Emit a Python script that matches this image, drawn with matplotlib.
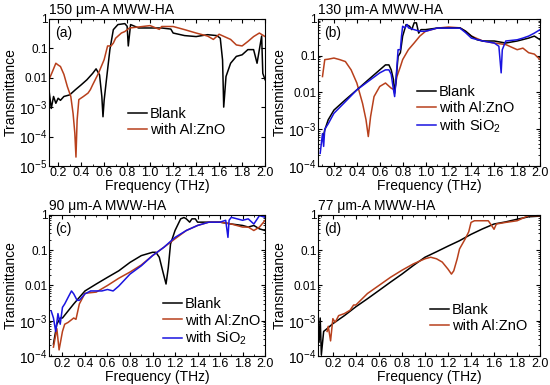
import math
import matplotlib
matplotlib.use('Agg')
import matplotlib.pyplot as plt
from matplotlib.ticker import LogLocator, NullFormatter, MultipleLocator

plt.rcParams['font.family'] = ['Liberation Sans', 'DejaVu Sans']
plt.rcParams['mathtext.default'] = 'regular'

# ---- panel (a): 150 um-A MWW-HA ----
fa_blank = [0.12, 0.14, 0.16, 0.18, 0.2, 0.22, 0.25, 0.3, 0.35, 0.4, 0.45, 0.5, 0.53, 0.56, 0.58, 0.59,
            0.6, 0.62, 0.65, 0.68, 0.72, 0.78, 0.8, 0.81, 0.83, 0.9, 1.0, 1.1, 1.18, 1.2, 1.3, 1.4, 1.5,
            1.58, 1.61, 1.63, 1.64, 1.66, 1.7, 1.75, 1.8, 1.85, 1.9, 1.93, 1.95, 1.97, 1.98, 2.0]
ta_blank = [3.9e-3, 9e-4, 2.3e-3, 1.35e-3, 2e-3, 1.7e-3, 2.3e-3, 2.6e-3, 3.9e-3, 5.7e-3, 8.5e-3, 0.014, 0.02,
            0.0125, 2.3e-3, 4.7e-4, 1.7e-3, 0.0085, 0.09, 0.43, 0.64, 0.69, 0.56, 0.12, 0.64, 0.49, 0.49,
            0.49, 0.45, 0.33, 0.27, 0.25, 0.29, 0.27, 0.22, 0.04, 1e-3, 0.011, 0.031, 0.053, 0.06, 0.09,
            0.09, 0.031, 0.09, 0.26, 0.014, 0.0085]
fa_azo = [0.12, 0.15, 0.18, 0.2, 0.22, 0.25, 0.28, 0.31, 0.33, 0.345, 0.355, 0.365, 0.38, 0.42, 0.46, 0.48,
          0.5, 0.55, 0.6, 0.63, 0.66, 0.68, 0.7, 0.75, 0.78, 0.82, 0.9, 1.0, 1.05, 1.08, 1.1, 1.2, 1.3,
          1.4, 1.5, 1.55, 1.6, 1.7, 1.75, 1.8, 1.85, 1.9, 1.95, 2.0]
ta_azo = [0.0085, 0.016, 0.031, 0.027, 0.024, 0.013, 0.005, 0.0023, 6e-4, 1.3e-4, 2e-5, 3.6e-4, 1.8e-3,
          2.3e-3, 3e-3, 3.9e-3, 5.7e-3, 0.014, 0.041, 0.12, 0.12, 0.15, 0.22, 0.33, 0.37, 0.49, 0.53, 0.59,
          0.49, 0.44, 0.55, 0.55, 0.43, 0.33, 0.26, 0.2, 0.3, 0.2, 0.13, 0.12, 0.17, 0.25, 0.33, 0.25]

# ---- panel (b): 130 um-A MWW-HA ----
fb_blank = [0.1, 0.12, 0.15, 0.2, 0.3, 0.4, 0.5, 0.6, 0.65, 0.68, 0.7, 0.72, 0.73, 0.74, 0.76, 0.78, 0.8,
            0.83, 0.86, 0.88, 0.9, 0.92, 0.94, 0.96, 1.0, 1.1, 1.3, 1.35, 1.4, 1.45, 1.5, 1.6, 1.7, 1.8,
            1.9, 1.95, 2.0]
tb_blank = [5e-4, 9.5e-4, 1.8e-3, 3.3e-3, 6.3e-3, 0.0117, 0.022, 0.041, 0.056, 0.056, 0.041, 0.022, 0.0095,
            0.018, 0.095, 0.12, 0.34, 0.7, 0.63, 0.51, 0.78, 0.78, 0.41, 0.51, 0.51, 0.56, 0.57, 0.46, 0.34,
            0.27, 0.25, 0.25, 0.22, 0.25, 0.3, 0.34, 0.27]
fb_azo = [0.1, 0.12, 0.15, 0.2, 0.25, 0.3, 0.35, 0.4, 0.45, 0.48, 0.5, 0.52, 0.55, 0.6, 0.65, 0.7, 0.73,
          0.75, 0.78, 0.8, 0.85, 0.9, 0.95, 1.0, 1.1, 1.2, 1.3, 1.35, 1.4, 1.5, 1.6, 1.7, 1.8, 1.85, 1.9,
          1.95, 2.0]
tb_azo = [0.027, 0.078, 0.08, 0.086, 0.078, 0.069, 0.041, 0.018, 5e-3, 1.8e-3, 6.3e-4, 2.2e-3, 7.7e-3,
          0.0145, 0.018, 0.013, 0.0117, 0.027, 0.05, 0.078, 0.145, 0.22, 0.34, 0.46, 0.56, 0.6, 0.57, 0.46,
          0.34, 0.25, 0.22, 0.2, 0.145, 0.16, 0.12, 0.11, 0.078]
fb_sio2 = [0.08, 0.1, 0.11, 0.12, 0.15, 0.2, 0.3, 0.4, 0.5, 0.6, 0.65, 0.68, 0.7, 0.72, 0.73, 0.74, 0.76,
           0.78, 0.79, 0.8, 0.82, 0.84, 0.85, 0.9, 0.95, 1.0, 1.1, 1.3, 1.35, 1.4, 1.5, 1.6, 1.64, 1.66,
           1.67, 1.7, 1.8, 1.85, 1.9, 1.95, 2.0]
tb_sio2 = [2.2e-4, 7.6e-4, 3.4e-4, 1e-3, 1.4e-3, 2.7e-3, 5.6e-3, 0.0117, 0.02, 0.034, 0.041, 0.041, 0.031,
           0.0117, 0.0077, 0.018, 0.145, 0.145, 0.34, 0.63, 0.57, 0.7, 0.57, 0.51, 0.46, 0.46, 0.56, 0.56,
           0.42, 0.3, 0.25, 0.22, 0.18, 0.034, 0.145, 0.25, 0.27, 0.3, 0.34, 0.41, 0.51]

# ---- panel (c): 90 um-A MWW-HA ----
fc_blank = [0.12, 0.15, 0.18, 0.2, 0.25, 0.3, 0.35, 0.4, 0.5, 0.6, 0.7, 0.8, 0.9, 1.0, 1.03, 1.06, 1.09,
            1.12, 1.14, 1.16, 1.2, 1.25, 1.28, 1.3, 1.33, 1.35, 1.38, 1.4, 1.5, 1.6, 1.7, 1.8, 1.85, 1.9,
            1.95, 2.0]
tc_blank = [2.2e-4, 8e-4, 1.2e-3, 1.2e-3, 1.9e-3, 3e-3, 4.6e-3, 7e-3, 0.011, 0.017, 0.026, 0.045, 0.07,
            0.087, 0.087, 0.063, 0.026, 0.011, 0.032, 0.15, 0.36, 0.77, 0.84, 0.77, 0.62, 0.77, 0.77, 0.62,
            0.62, 0.62, 0.55, 0.5, 0.45, 0.5, 0.4, 0.36]
fc_azo = [0.12, 0.15, 0.17, 0.2, 0.22, 0.25, 0.3, 0.32, 0.35, 0.4, 0.5, 0.6, 0.7, 0.8, 0.9, 1.0, 1.1, 1.2,
          1.3, 1.4, 1.5, 1.6, 1.7, 1.8, 1.85, 1.9, 1.95, 2.0]
tc_azo = [1.8e-4, 6e-4, 1.5e-4, 5e-4, 8e-4, 9e-4, 1.2e-3, 1.1e-3, 3e-3, 6e-3, 6.5e-3, 0.01, 0.016, 0.024,
          0.038, 0.07, 0.12, 0.21, 0.36, 0.5, 0.62, 0.62, 0.55, 0.45, 0.45, 0.36, 0.45, 0.7]
fc_sio2 = [0.1, 0.12, 0.14, 0.16, 0.18, 0.2, 0.22, 0.25, 0.28, 0.3, 0.33, 0.35, 0.4, 0.45, 0.5, 0.55, 0.6,
           0.65, 0.7, 0.8, 0.9, 1.0, 1.1, 1.2, 1.3, 1.4, 1.5, 1.6, 1.65, 1.67, 1.68, 1.7, 1.8, 1.85, 1.9,
           1.95, 2.0]
tc_sio2 = [1.9e-3, 1.2e-3, 5e-4, 1.6e-3, 8e-4, 2.4e-3, 3e-3, 4.6e-3, 7e-3, 5.8e-3, 3.8e-3, 3.8e-3, 5.8e-3,
           7e-3, 7e-3, 7e-3, 7.7e-3, 7e-3, 9.6e-3, 0.021, 0.036, 0.07, 0.12, 0.23, 0.36, 0.5, 0.62, 0.62,
           0.7, 0.23, 0.7, 0.85, 0.7, 0.77, 0.55, 0.95, 0.85]

# ---- panel (d): 77 um-A MWW-HA ----
fd_blank = [0.08, 0.09, 0.1, 0.12, 0.15, 0.2, 0.3, 0.4, 0.5, 0.6, 0.7, 0.8, 0.9, 1.0, 1.1, 1.2, 1.3, 1.4,
            1.5, 1.6, 1.7, 1.8, 1.9, 2.0]
td_blank = [2.5e-4, 1.2e-3, 1.1e-4, 5e-4, 6e-4, 8.3e-4, 1.4e-3, 2.5e-3, 4.2e-3, 7.2e-3, 0.0124, 0.021,
            0.037, 0.063, 0.09, 0.13, 0.185, 0.28, 0.4, 0.55, 0.63, 0.75, 0.88, 0.92]
fd_azo = [0.15, 0.16, 0.18, 0.2, 0.22, 0.25, 0.3, 0.35, 0.38, 0.4, 0.5, 0.6, 0.7, 0.8, 0.9, 1.0, 1.05, 1.1,
          1.15, 1.2, 1.23, 1.25, 1.28, 1.3, 1.35, 1.38, 1.4, 1.43, 1.5, 1.55, 1.58, 1.6, 1.62, 1.7, 1.8,
          1.9, 2.0]
td_azo = [5e-4, 7e-4, 2.7e-4, 1.15e-3, 9e-4, 1.4e-3, 1.6e-3, 2e-3, 2.8e-3, 2.8e-3, 5.9e-3, 0.01, 0.017,
          0.027, 0.041, 0.057, 0.063, 0.057, 0.046, 0.029, 0.021, 0.026, 0.057, 0.108, 0.21, 0.33, 0.61,
          0.68, 0.68, 0.68, 0.49, 0.39, 0.55, 0.61, 0.68, 0.95, 0.95]

black = 'black'
red = '#b8401c'
blue = '#1a14e0'

titles = ['150 \u03bcm-A MWW-HA', '130 \u03bcm-A MWW-HA', '90 \u03bcm-A MWW-HA', '77 \u03bcm-A MWW-HA']
letters = ['(a)', '(b)', '(c)', '(d)']

fig = plt.figure(figsize=(5.5, 3.85), dpi=100)
boxes = [[0.089, 0.569, 0.393, 0.382], [0.578, 0.569, 0.404, 0.382],
         [0.089, 0.075, 0.393, 0.367], [0.578, 0.075, 0.404, 0.367]]
axs = [fig.add_axes(b) for b in boxes]

lw = 1.1
axs[0].plot(fa_blank, ta_blank, color=black, lw=lw, label='Blank')
axs[0].plot(fa_azo, ta_azo, color=red, lw=lw, label='with Al:ZnO')
axs[1].plot(fb_azo, tb_azo, color=red, lw=lw, label='with Al:ZnO')
axs[1].plot(fb_blank, tb_blank, color=black, lw=lw, label='Blank')
axs[1].plot(fb_sio2, tb_sio2, color=blue, lw=lw, label='with SiO$_2$')
axs[2].plot(fc_blank, tc_blank, color=black, lw=lw, label='Blank')
axs[2].plot(fc_azo, tc_azo, color=red, lw=lw, label='with Al:ZnO')
axs[2].plot(fc_sio2, tc_sio2, color=blue, lw=lw, label='with SiO$_2$')
axs[3].plot(fd_blank, td_blank, color=black, lw=lw, label='Blank')
axs[3].plot(fd_azo, td_azo, color=red, lw=lw, label='with Al:ZnO')

ymins = [1e-5, 1e-4, 1e-4, 1e-4]
xmins = [0.12, 0.06, 0.08, 0.07]
legpos = [(0.366, 0.30), (0.446, 0.38), (0.528, 0.24), (0.505, 0.27)]
for i, ax in enumerate(axs):
    ax.set_yscale('log')
    ax.set_ylim(ymins[i], 1)
    ax.set_xlim(xmins[i], 2.0)
    ticks = [10.0 ** k for k in range(-5, 1) if 10.0 ** k >= ymins[i] * 0.99]
    labs = []
    for t in ticks:
        if t >= 0.01:
            labs.append('%g' % t)
        else:
            labs.append('10$^{%d}$' % round(math.log10(t)))
    ax.set_yticks(ticks)
    ax.set_yticklabels(labs)
    for t, lab in zip(ticks, ax.get_yticklabels()):
        lab.set_fontsize(8.5 if t >= 0.01 else 10)
    ax.yaxis.set_minor_locator(LogLocator(base=10, subs=range(2, 10)))
    ax.yaxis.set_minor_formatter(NullFormatter())
    ax.set_xticks([0.2, 0.4, 0.6, 0.8, 1.0, 1.2, 1.4, 1.6, 1.8, 2.0])
    ax.set_xticklabels(['0.2', '0.4', '0.6', '0.8', '1.0', '1.2', '1.4', '1.6', '1.8', '2.0'])
    ax.xaxis.set_minor_locator(MultipleLocator(0.1))
    ax.tick_params(which='both', direction='in', top=True, right=True)
    ax.tick_params(which='major', length=3, pad=1)
    ax.tick_params(which='minor', length=1.5)
    ax.tick_params(axis='x', labelsize=9)
    ax.set_xlabel('Frequency (THz)', fontsize=10, labelpad=0)
    ax.set_ylabel('Transmittance', fontsize=10, labelpad=1)
    ax.text(0.0, 1.015, titles[i], transform=ax.transAxes, fontsize=10, ha='left', va='bottom')
    ax.text(0.03, 0.95, letters[i], transform=ax.transAxes, fontsize=10, ha='left', va='top')
    h, l = ax.get_legend_handles_labels()
    if i == 1:
        h = [h[1], h[0], h[2]]
        l = [l[1], l[0], l[2]]
    ax.legend(h, l, loc='center left', bbox_to_anchor=legpos[i], frameon=False, fontsize=10.5,
              handlelength=1.3, handletextpad=0.2, labelspacing=0.15, borderpad=0, borderaxespad=0)

fig.savefig('out.png', dpi=100)
